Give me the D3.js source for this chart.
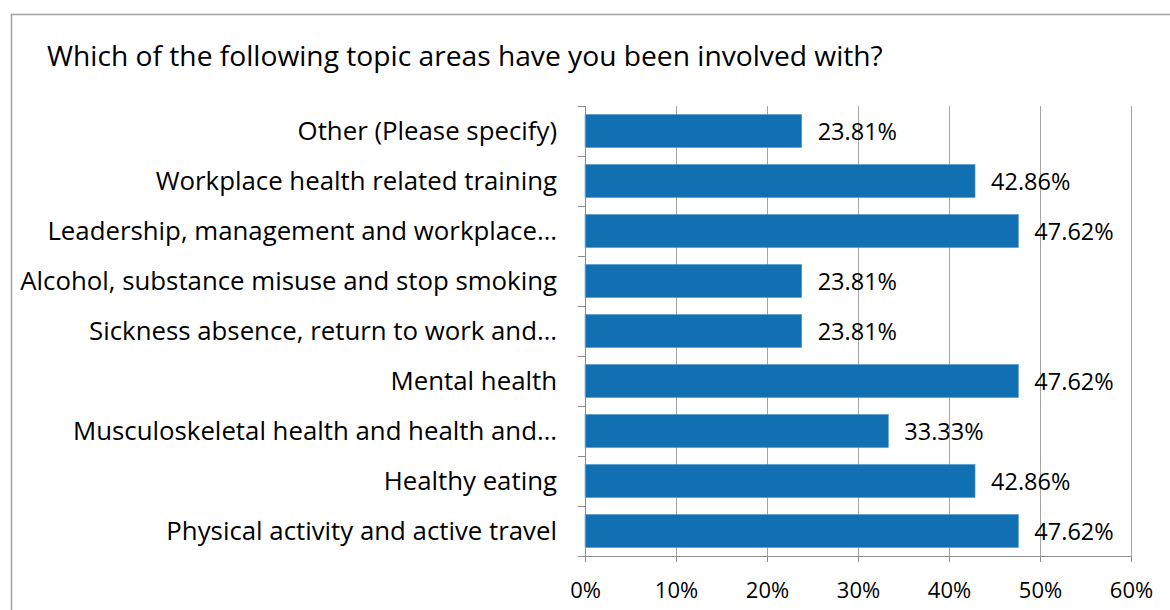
<!DOCTYPE html>
<html>
<head>
<meta charset="utf-8">
<script src="https://cdn.jsdelivr.net/npm/d3@7"></script>
<style>
  body { margin: 0; background: #fff; }
  svg text { font-family: "Open Sans", sans-serif; fill: #000; }
</style>
</head>
<body>
<svg id="chart"></svg>
<script>
let title = "Which of the following topic areas have you been involved with?";

let categories = [
    "Other (Please specify)",
    "Workplace health related training",
    "Leadership, management and workplace…",
    "Alcohol, substance misuse and stop smoking",
    "Sickness absence, return to work and…",
    "Mental health",
    "Musculoskeletal health and health and…",
    "Healthy eating",
    "Physical activity and active travel"
];

let values = [23.81, 42.86, 47.62, 23.81, 23.81, 47.62, 33.33, 42.86, 47.62];

let xTicks = [0, 10, 20, 30, 40, 50, 60];

let width = 1170;
let height = 610;

let plotLeft = 585;
let plotRight = 1131;
let plotTop = 106;
let plotBottom = 556;

let svg = d3.select("#chart")
    .attr("width", width)
    .attr("height", height);

// chart frame (cut off at right and bottom)
svg.append("rect")
    .attr("x", 11.5)
    .attr("y", 14.5)
    .attr("width", 1200)
    .attr("height", 700)
    .attr("fill", "none")
    .attr("stroke", "#a0a0a0")
    .attr("stroke-width", 1.5);

svg.append("text")
    .attr("x", 47)
    .attr("y", 66)
    .attr("font-size", 28.2)
    .text(title);

let xScale = d3.scaleLinear()
    .domain([0, 60])
    .range([plotLeft, plotRight]);

let yScale = d3.scaleBand()
    .domain(categories)
    .range([plotTop, plotBottom])
    .paddingInner(0.34)
    .paddingOuter(0.17);

// gridlines
svg.append("g")
    .selectAll("line")
    .data(xTicks.slice(1))
    .enter()
    .append("line")
    .attr("x1", d => xScale(d) + 0.5)
    .attr("x2", d => xScale(d) + 0.5)
    .attr("y1", plotTop)
    .attr("y2", plotBottom)
    .attr("stroke", "#a6a6a6")
    .attr("stroke-width", 1);

// bars
svg.append("g")
    .selectAll("rect")
    .data(values)
    .enter()
    .append("rect")
    .attr("x", xScale(0))
    .attr("y", (d, i) => yScale(categories[i]))
    .attr("width", d => xScale(d) - xScale(0))
    .attr("height", yScale.bandwidth())
    .attr("fill", "#1070b1")
    .attr("stroke", "#4f95cc")
    .attr("stroke-width", 0.6);

// value labels
svg.append("g")
    .selectAll("text")
    .data(values)
    .enter()
    .append("text")
    .attr("x", d => xScale(d) + 16)
    .attr("y", (d, i) => yScale(categories[i]) + yScale.bandwidth() / 2 + 1)
    .attr("dy", "0.35em")
    .attr("font-size", 23.5)
    .text(d => d.toFixed(2) + "%");

// x axis
let xAxis = d3.axisBottom(xScale)
    .tickValues(xTicks)
    .tickFormat(d => d + "%")
    .tickSizeInner(6)
    .tickSizeOuter(0)
    .tickPadding(20);

let gx = svg.append("g")
    .attr("transform", `translate(0, ${plotBottom})`)
    .call(xAxis);
gx.selectAll("text").attr("font-size", 22).attr("font-family", "'Open Sans', sans-serif").attr("fill", "#000");
gx.selectAll("line").attr("stroke", "#8c8c8c");
gx.select(".domain").attr("stroke", "#8c8c8c");

// y axis: ticks between categories
let boundaries = d3.range(categories.length + 1).map(i => plotTop + i * yScale.step());
let gy = svg.append("g");
gy.append("line")
    .attr("x1", plotLeft + 0.5)
    .attr("x2", plotLeft + 0.5)
    .attr("y1", plotTop)
    .attr("y2", plotBottom + 6)
    .attr("stroke", "#8c8c8c");
gy.selectAll(".ytick")
    .data(boundaries)
    .enter()
    .append("line")
    .attr("class", "ytick")
    .attr("x1", plotLeft - 7)
    .attr("x2", plotLeft)
    .attr("y1", d => d + 0.5)
    .attr("y2", d => d + 0.5)
    .attr("stroke", "#8c8c8c");

gy.selectAll("text")
    .data(categories)
    .enter()
    .append("text")
    .attr("x", plotLeft - 28)
    .attr("y", d => yScale(d) + yScale.bandwidth() / 2)
    .attr("dy", "0.35em")
    .attr("text-anchor", "end")
    .attr("font-size", 25.8)
    .text(d => d);
</script>
</body>
</html>
